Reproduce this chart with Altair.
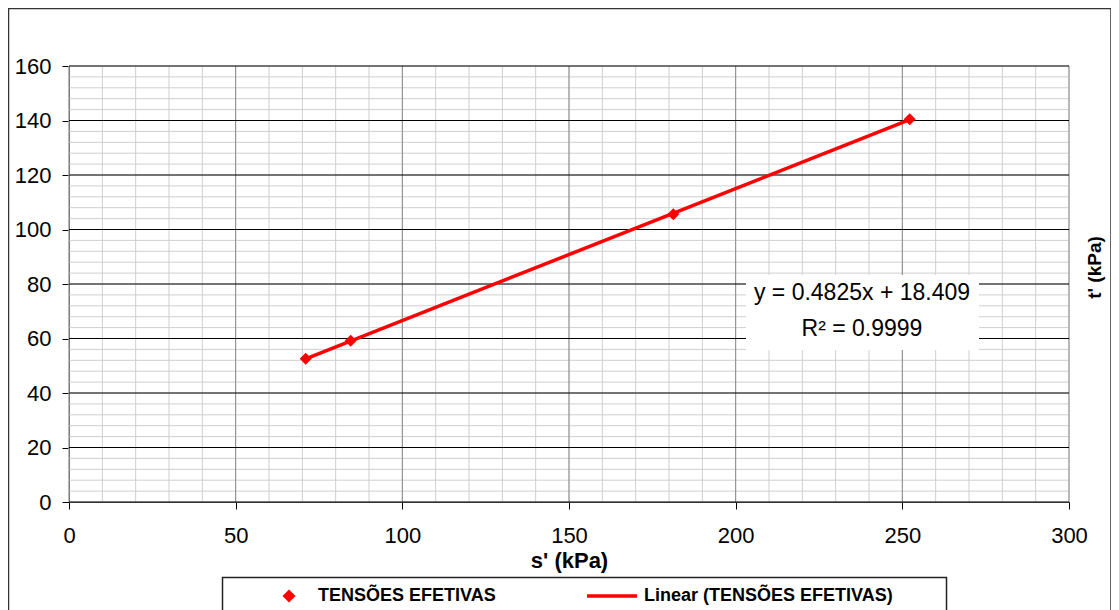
import altair as alt
import pandas as pd

# ---- data ----
s_vals = [71.0, 84.5, 181.3, 252.2]
t_vals = [52.6, 59.2, 105.6, 140.5]
series_name = "TENSÕES EFETIVAS"
trend_name = "Linear (TENSÕES EFETIVAS)"
eq_lines = ["y = 0.4825x + 18.409", "R² = 0.9999"]

x_ticks = [0, 50, 100, 150, 200, 250, 300]
y_ticks = [0, 20, 40, 60, 80, 100, 120, 140, 160]
x_minor = [v for v in range(0, 301, 10)]
y_minor = [v for v in range(0, 161, 4)]

# annotation placement (data units)
EQ_BOX = dict(x=203.1, x2=273.0, y=55.8, y2=83.3)
EQ_X = 237.9
EQ_Y = [76.7, 63.5]

FONT = "Liberation Sans"
RED = "#ff0000"

pts = pd.DataFrame({"s": s_vals, "t": t_vals, "serie": [series_name] * len(s_vals)})
xs = alt.Scale(domain=[0, 300], nice=False, zero=False)
ys = alt.Scale(domain=[0, 160], nice=False, zero=False)

xaxis = alt.Axis(
    values=x_ticks, grid=False, tickSize=7, tickColor="black", domainColor="black",
    labelFont=FONT, labelFontSize=22, labelColor="black", labelPadding=16, labelFlush=False,
    title="s' (kPa)", titleFont=FONT, titleFontSize=22, titleFontWeight="bold", titleColor="black",
    titleX=500, titleY=65, titleAlign="center", titleBaseline="alphabetic",
)
yaxis = alt.Axis(
    values=y_ticks, grid=False, tickSize=7, tickColor="black", domainColor="black",
    labelFont=FONT, labelFontSize=22, labelColor="black", labelPadding=11, labelFlush=False,
    title="t' (kPa)", titleFont=FONT, titleFontSize=19, titleFontWeight="bold", titleColor="black",
    titleAngle=270, titleX=1025, titleY=201, titleAlign="center", titleBaseline="middle",
)


def X(field):
    return alt.X(field, scale=xs, axis=xaxis, title="s' (kPa)")


def Y(field):
    return alt.Y(field, scale=ys, axis=yaxis, title="t' (kPa)")


one = alt.Data(values=[{}])

border = alt.Chart(one).mark_rect(filled=False, stroke="#333333", strokeWidth=1.5).encode(
    x=alt.value(-60.5), x2=alt.value(1042), y=alt.value(-57.5), y2=alt.value(620)
)

xminor = alt.Chart(pd.DataFrame({"v": x_minor})).mark_rule(color="#cfcfcf", strokeWidth=1).encode(
    x=X("v:Q")
)
yminor = alt.Chart(pd.DataFrame({"v": y_minor})).mark_rule(color="#cfcfcf", strokeWidth=1).encode(
    y=Y("v:Q")
)
xmajor = alt.Chart(pd.DataFrame({"v": x_ticks})).mark_rule(color="#8a8a8a", strokeWidth=1).encode(
    x=X("v:Q")
)
ymajor = alt.Chart(pd.DataFrame({"v": y_ticks})).mark_rule(color="#000000", strokeWidth=1).encode(
    y=Y("v:Q")
)

eqbox = alt.Chart(pd.DataFrame([EQ_BOX])).mark_rect(fill="white", strokeWidth=0).encode(
    x=X("x:Q"), x2="x2:Q", y=Y("y:Q"), y2="y2:Q",
)
eqtext = alt.Chart(pd.DataFrame({"label": eq_lines, "x": [EQ_X] * 2, "y": EQ_Y})).mark_text(
    font=FONT, fontSize=23, color="black", align="center", baseline="middle"
).encode(x=X("x:Q"), y=Y("y:Q"), text="label:N")

legend_box = alt.Chart(one).mark_rect(filled=False, stroke="#222222", strokeWidth=1.5).encode(
    x=alt.value(153.5), x2=alt.value(877.5), y=alt.value(511.5), y2=alt.value(620)
)

trend = alt.Chart(pts).transform_regression("s", "t").transform_calculate(
    tr="'" + trend_name + "'"
).mark_line(strokeWidth=3.5, color=RED).encode(
    x=X("s:Q"),
    y=Y("t:Q"),
    stroke=alt.Stroke(
        "tr:N",
        scale=alt.Scale(domain=[trend_name], range=[RED]),
        legend=alt.Legend(
            orient="none", legendX=516, legendY=503, title=None, padding=0,
            symbolType="stroke", symbolSize=2500, symbolStrokeWidth=3.5,
            symbolStrokeColor=RED,
            labelFont=FONT, labelFontSize=18, labelFontWeight="bold", labelColor="black",
            labelOffset=5, labelLimit=0,
        ),
    ),
)

points = alt.Chart(pts).mark_point(shape="diamond", filled=True, size=144, opacity=1).encode(
    x=X("s:Q"),
    y=Y("t:Q"),
    color=alt.Color(
        "serie:N",
        scale=alt.Scale(domain=[series_name], range=[RED]),
        legend=alt.Legend(
            orient="none", legendX=211, legendY=521, title=None, padding=0,
            symbolType="diamond", symbolSize=169, symbolStrokeWidth=0, symbolOpacity=1,
            labelFont=FONT, labelFontSize=18, labelFontWeight="bold", labelColor="black",
            labelOffset=20, labelLimit=0,
        ),
    ),
)

chart = alt.layer(
    border, xminor, yminor, xmajor, ymajor, eqbox, eqtext, trend, points, legend_box
).properties(
    width=1000, height=436,
    autosize=alt.AutoSizeParams(type="none"),
    padding={"left": 61, "top": 58, "right": 42, "bottom": 108},
    background="white",
).configure_view(stroke=None)

chart.save("out.html", embed_options={"renderer": "svg", "actions": False})
